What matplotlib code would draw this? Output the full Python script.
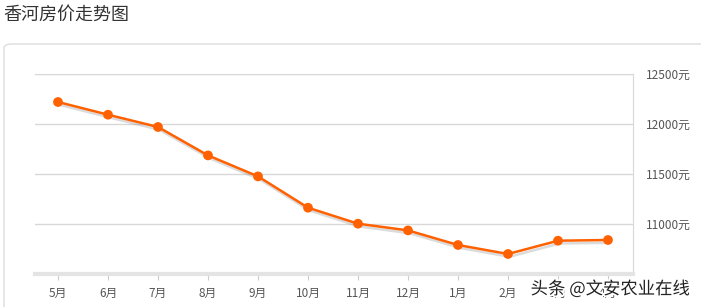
import matplotlib
matplotlib.use("Agg")
import matplotlib.pyplot as plt
import matplotlib.patheffects as pe
from matplotlib.patches import FancyBboxPatch

plt.rcParams['font.family'] = ['Noto Sans CJK SC', 'DejaVu Sans']

# data
months = ['5月', '6月', '7月', '8月', '9月', '10月', '11月', '12月', '1月', '2月', '3月', '4月']
prices = [12220, 12093, 11970, 11686, 11476, 11163, 11003, 10936, 10790, 10700, 10833, 10840]
y_ticks = [11000, 11500, 12000, 12500]
y_labels = [f'{v}元' for v in y_ticks]

W, H = 701, 307
fig = plt.figure(figsize=(W / 100, H / 100), dpi=100)

# outer panel box (runs off the right and bottom edges)
box = FancyBboxPatch((4 / W, -20 / H), 720 / W, (307 - 44 + 20) / H,
                     boxstyle='round,pad=0,rounding_size=0.012',
                     transform=fig.transFigure, facecolor='white',
                     edgecolor='#dddddd', linewidth=1, clip_on=False, zorder=0)
fig.patches.append(box)

fig.text(3 / W, 1 - 15 / H, '香河房价走势图', fontsize=13, color='#333333',
         ha='left', va='center')

ax = fig.add_axes([35 / W, 33 / H, 598 / W, 200 / H], zorder=2)
ax.patch.set_alpha(0)
x = list(range(len(months)))
ax.plot(x, prices, color='#ff6000', linewidth=1.8, marker='o', markersize=7,
        markeredgewidth=0, zorder=3,
        path_effects=[pe.SimpleLineShadow(offset=(1, -2), shadow_color='#888888', alpha=0.3),
                      pe.Normal()])

ax.set_xlim(-0.46, 11.5)
ax.set_ylim(10500, 12500)
ax.set_xticks(x)
ax.set_xticklabels(months, fontsize=8.5, color='#555555')
ax.set_yticks(y_ticks)
ax.set_yticklabels(y_labels, fontsize=8.5, color='#555555')
ax.yaxis.tick_right()
ax.tick_params(axis='y', length=0, pad=9)
ax.tick_params(axis='x', length=4, color='#cccccc', pad=5)
ax.grid(axis='y', color='#d8d8d8', linewidth=1)

ax.spines['left'].set_visible(False)
ax.spines['top'].set_color('#d8d8d8')
ax.spines['right'].set_color('#d8d8d8')
ax.spines['bottom'].set_color('#e4e4e4')
ax.spines['bottom'].set_linewidth(3)

# watermark
fig.text(690 / W, 1 - 289 / H, '头条 @文安农业在线', fontsize=12.5, color='#222222',
         ha='right', va='center', zorder=5,
         path_effects=[pe.withStroke(linewidth=2.5, foreground='white')])

fig.savefig('out.png', dpi=100)
